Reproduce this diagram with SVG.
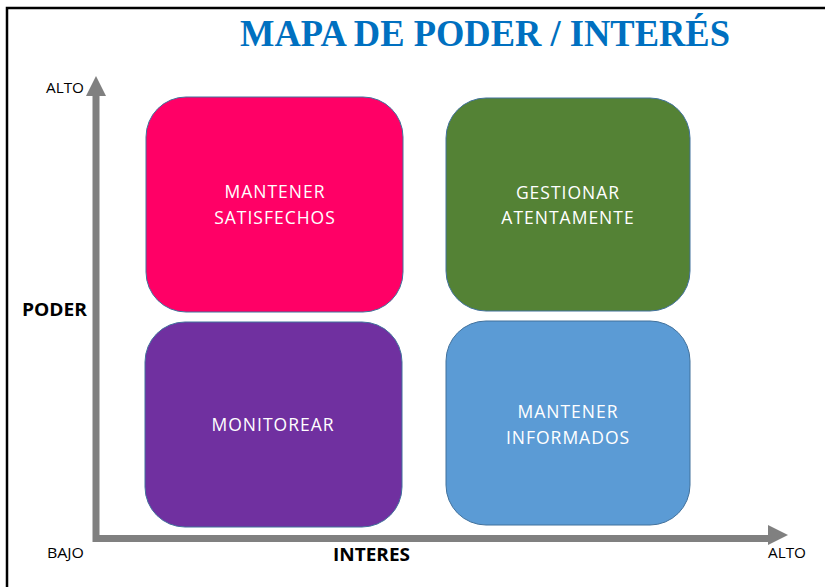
<svg xmlns="http://www.w3.org/2000/svg" width="825" height="587" viewBox="0 0 825 587">
<style>
.box{stroke:#41719C;stroke-width:1}
.lbl{font-family:"Open Sans","Liberation Sans",sans-serif;font-size:17.5px;fill:#ffffff;text-anchor:middle;letter-spacing:1px}
.ax{font-family:"Open Sans","Liberation Sans",sans-serif;font-size:14px;fill:#000}
.axb{font-family:"Open Sans","Liberation Sans",sans-serif;font-size:18px;font-weight:bold;fill:#000}
.axis{stroke:#808080;stroke-width:7;fill:none}
</style>
<rect x="0" y="0" width="825" height="587" fill="#ffffff"/>
<path d="M7,587 V8 H825" fill="none" stroke="#000" stroke-width="2.5"/>
<text x="485" y="46" font-family="'Liberation Serif',serif" font-weight="bold" font-size="38" fill="#0070C0" text-anchor="middle" textLength="490" lengthAdjust="spacingAndGlyphs">MAPA DE PODER / INTERÉS</text>
<g id="connectors">
<path class="axis" d="M96,93 V538.5 H772"/>
<polygon points="96,76 106,96 86,96" fill="#808080"/>
<polygon points="788,535 768,525 768,545" fill="#808080"/>
</g>
<text class="ax" x="46" y="93" textLength="38" lengthAdjust="spacingAndGlyphs">ALTO</text>
<text class="axb" x="22" y="316" textLength="65" lengthAdjust="spacingAndGlyphs">PODER</text>
<text class="ax" x="47" y="558" textLength="37" lengthAdjust="spacingAndGlyphs">BAJO</text>
<text class="axb" x="333" y="561" textLength="77" lengthAdjust="spacingAndGlyphs">INTERES</text>
<text class="ax" x="768" y="558" textLength="38" lengthAdjust="spacingAndGlyphs">ALTO</text>
<g id="satisfechos">
<rect class="box" x="146" y="97" width="257" height="215" rx="40" fill="#FF0066"/>
<text class="lbl" x="275" y="198">MANTENER</text>
<text class="lbl" x="275" y="224">SATISFECHOS</text>
</g>
<g id="gestionar">
<rect class="box" x="446" y="98" width="244" height="213" rx="40" fill="#548235" stroke="#507E32"/>
<text class="lbl" x="568" y="199">GESTIONAR</text>
<text class="lbl" x="568" y="224">ATENTAMENTE</text>
</g>
<g id="monitorear">
<rect class="box" x="145" y="322" width="257" height="205" rx="40" fill="#7030A0"/>
<text class="lbl" x="273" y="431">MONITOREAR</text>
</g>
<g id="informados">
<rect class="box" x="446" y="321" width="244" height="204" rx="40" fill="#5B9BD5"/>
<text class="lbl" x="568" y="418">MANTENER</text>
<text class="lbl" x="568" y="444">INFORMADOS</text>
</g>
</svg>
